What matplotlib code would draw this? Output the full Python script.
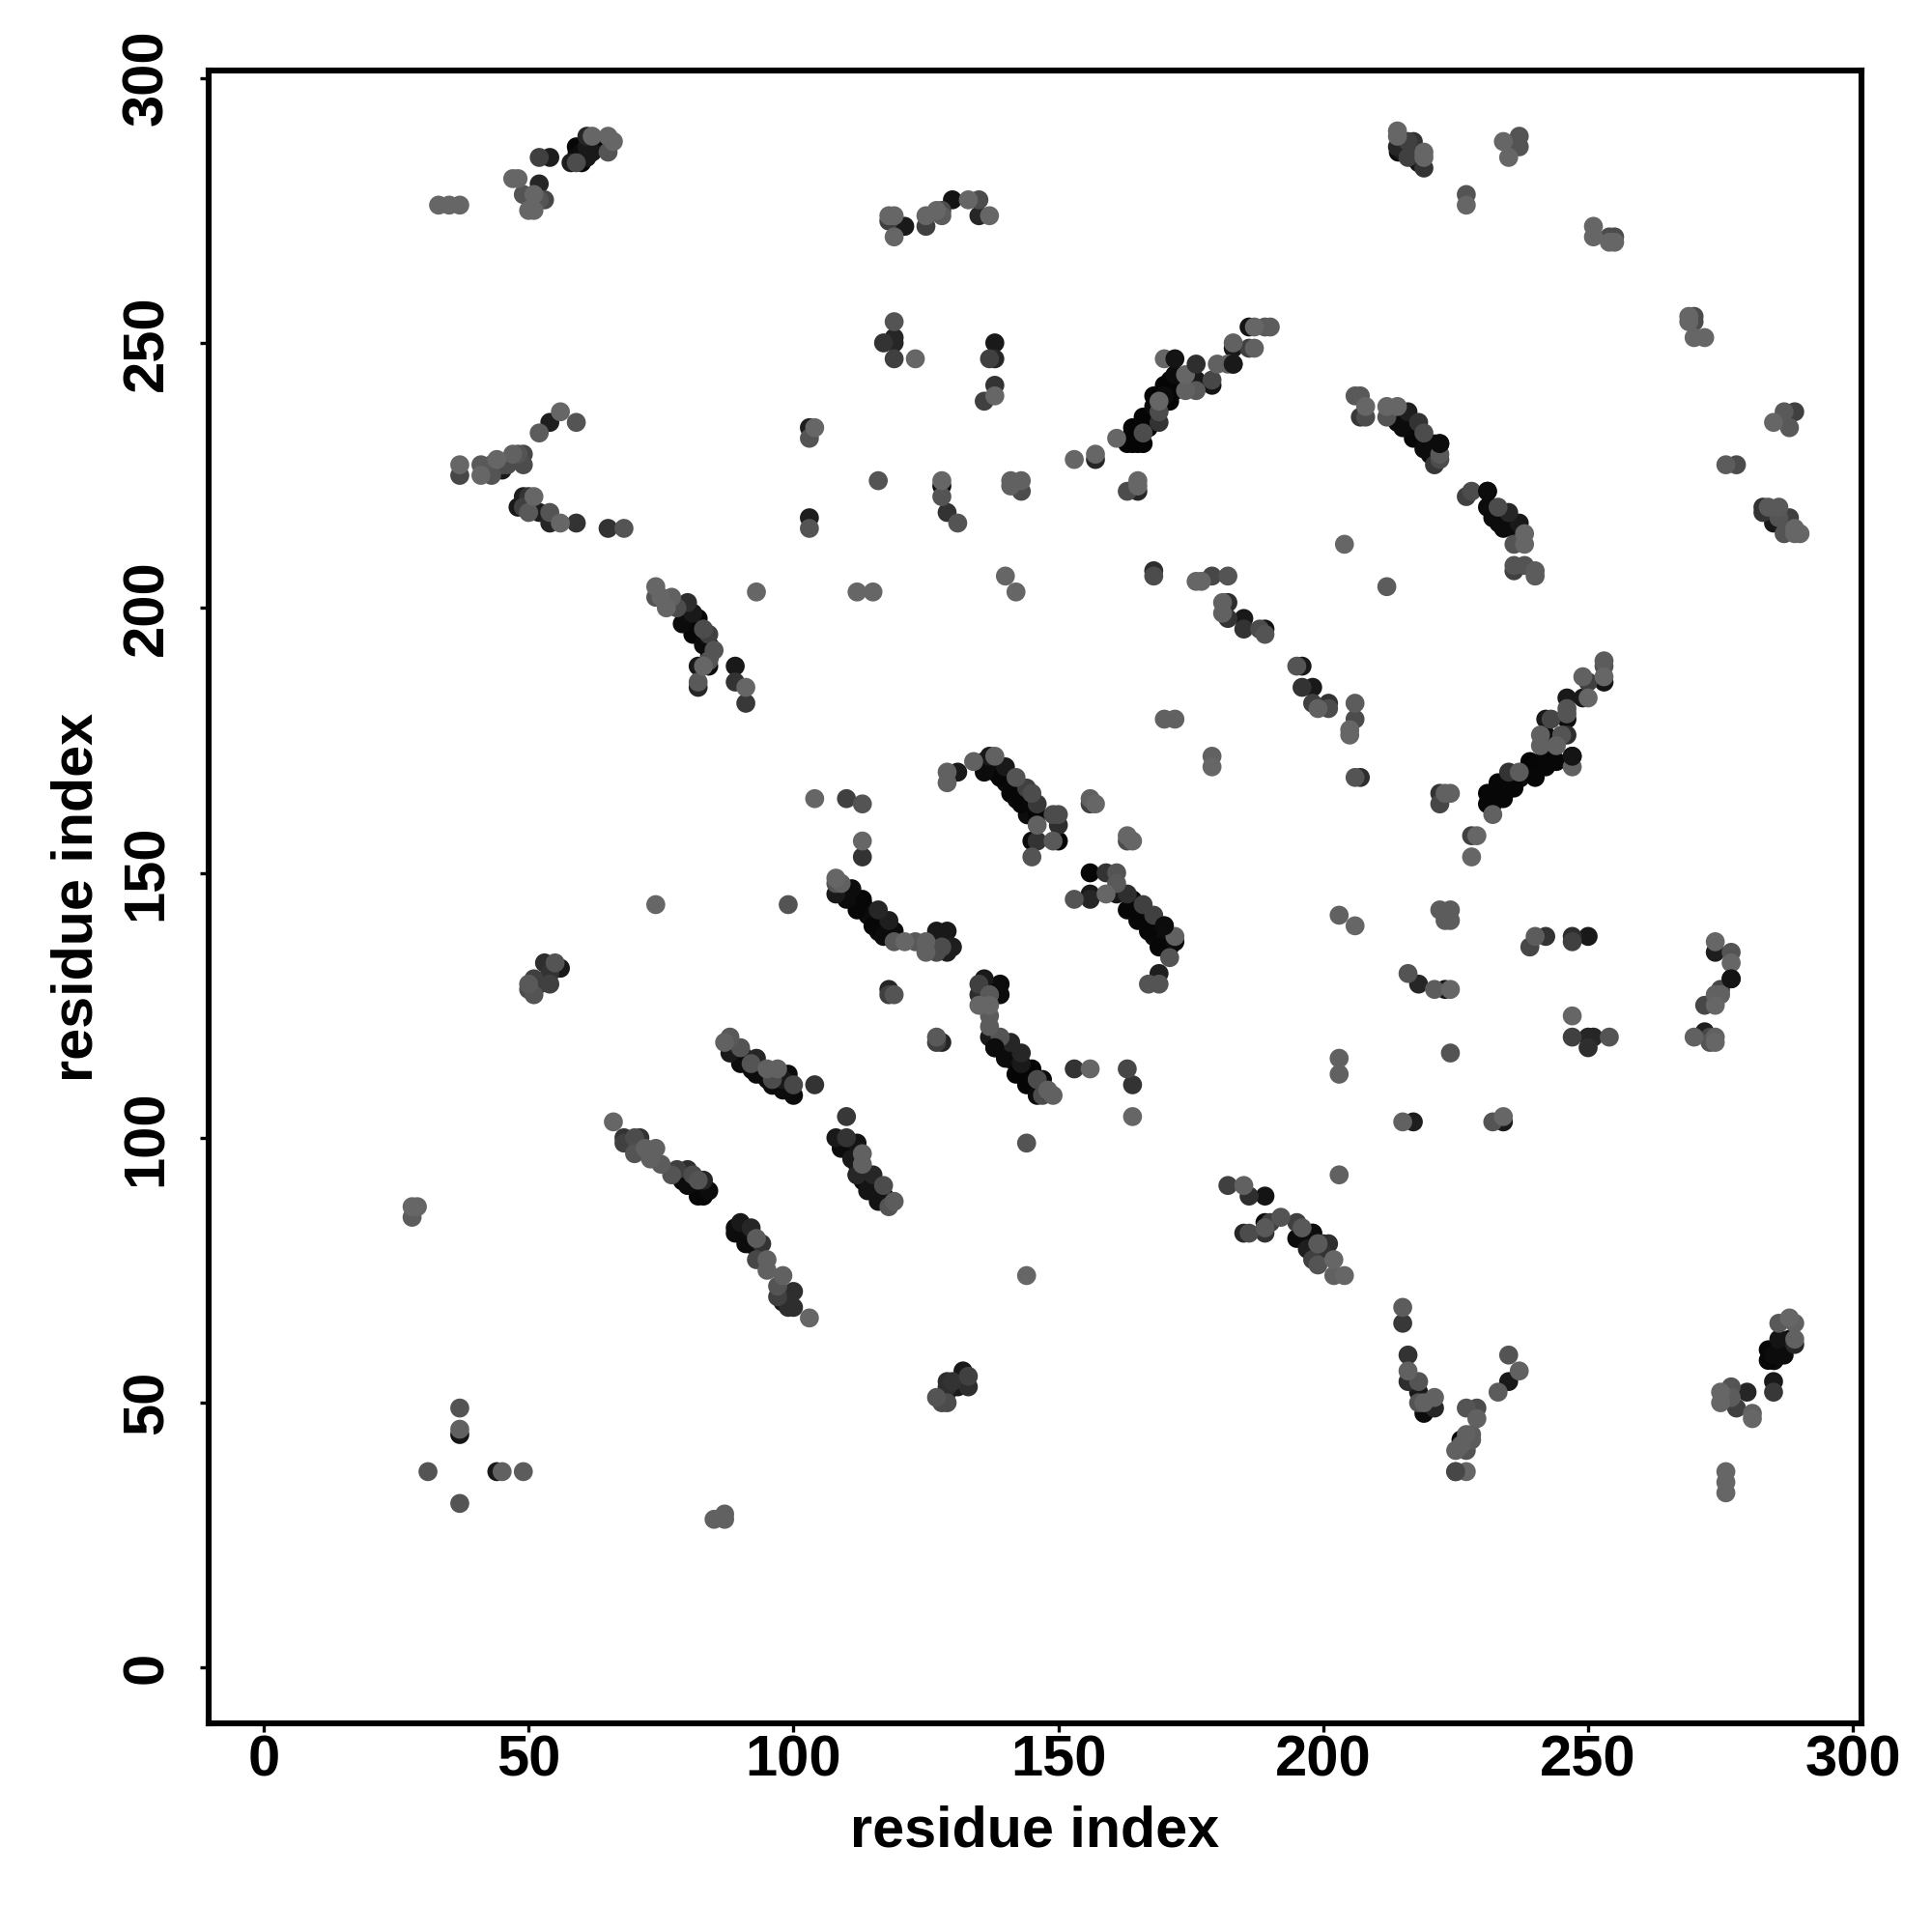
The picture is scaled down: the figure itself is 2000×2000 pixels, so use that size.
import numpy as np
import matplotlib
matplotlib.use("Agg")
import matplotlib.pyplot as plt

plt.rcParams['font.family'] = ['Liberation Sans', 'DejaVu Sans']
plt.rcParams['font.weight'] = 'bold'

# contact map, values, one row per cluster
res_i = [
    33, 35, 37, 47, 48, 52, 54, 52, 49, 51, 53, 52, 50, 51,
    58, 59, 60, 59, 60, 59, 61, 62, 61, 61, 62, 65, 65, 66,
    56, 54, 59, 52,
    37, 37, 41, 41, 44, 43, 45, 45, 46, 43,
    47, 48, 49, 49,
    49, 50, 51, 48, 49, 50, 52, 54, 54, 56, 59, 65, 68,
    103, 104, 103, 103, 103,
    118, 119, 118, 119, 121, 125, 125, 128, 127, 128, 130, 133, 135, 135, 137,
    119, 117, 119, 119, 119, 123,
    138, 137, 138, 138, 138, 136,
    163, 164, 165, 166, 164, 161, 164, 166, 167, 166, 168, 169, 169, 169, 168, 170, 171, 170, 172, 172, 170,
    174, 174, 175, 176, 176, 179, 179, 180, 182, 183, 183, 183, 186, 187, 186, 187, 189, 190,
    153, 157, 157,
    116, 128, 128, 128, 129, 131,
    141, 143, 141, 143,
    163, 165, 165, 165,
    214, 214, 214, 215, 216, 217, 218, 219, 219, 219, 216,
    234, 235, 237, 237,
    227, 227,
    251, 251, 254, 255, 254, 255,
    269, 270, 269, 270, 270, 272,
    206, 207, 208, 207, 208,
    212, 214, 212, 214, 216, 215, 217, 218, 219, 219, 222, 222, 221, 222,
    204,
    227, 228, 231, 231, 233, 235, 232, 234, 237, 238, 236, 238,
    236, 238, 240, 240, 236,
    283, 286, 284, 283, 285, 286, 288, 287, 289, 290, 289,
    285, 287, 289, 288,
    276, 278,
    74, 74, 75, 77, 76, 78, 80, 79, 82, 81, 81, 83, 84, 83, 85, 84, 84, 82, 83, 82, 82,
    89, 89, 91, 91,
    93, 112, 115,
    104, 110, 113, 113, 113,
    74, 99,
    53, 55, 56, 54, 54, 52, 51, 50, 50, 51,
    108, 108, 108, 109, 111, 110, 112, 113, 116, 118, 115, 117, 119, 119, 121, 123, 125, 125, 127, 129, 127, 130, 129, 126, 128,
    118, 118, 119,
    136, 135, 135, 135, 137, 137, 137, 139, 139, 137,
    127, 127, 128,
    137, 138, 139, 141, 140, 138, 143, 142, 145, 144, 147, 146, 146, 148, 149, 147, 143,
    153, 156, 163, 164, 164,
    144, 144,
    129, 130, 129, 129, 131, 127, 129, 128, 132, 133, 133,
    182, 185, 186, 189,
    185, 186, 189, 189, 190, 189, 192, 195, 196, 195, 198, 197, 200, 199,
    198, 201, 199, 198, 199, 202, 202, 204, 200,
    88, 87, 89, 88, 90, 90, 92, 93, 93, 95, 97, 96, 99, 98, 100, 100, 98,
    104,
    66, 68, 71, 70, 68, 70, 72, 74, 73, 75, 77, 80, 78, 81, 80, 83, 82, 84, 83, 82,
    90, 89, 89, 92, 91, 93, 94, 93, 95, 95, 98, 97, 97, 100, 99, 100, 98, 103,
    28, 29, 28,
    37, 37, 37, 31, 44, 45, 49, 37,
    85, 87, 87,
    108, 110, 112, 109, 113, 111, 110, 112, 113, 112, 115, 114, 117, 116, 118, 119,
    140, 142,
    168, 168,
    176, 177, 179, 182,
    181, 182, 181, 182, 185, 185, 188, 189, 189,
    195, 196, 196, 198, 198, 199, 201, 201,
    206, 206, 205, 205, 206, 207,
    170, 172, 179, 179,
    129, 131, 129,
    134, 136, 136, 138, 137, 140, 139, 142, 141, 144, 143, 146, 145, 146, 149, 150, 150, 146, 146, 145, 150, 149, 145,
    156, 157, 156,
    163, 164, 163,
    156, 159, 161, 161, 156, 153, 156, 159, 161, 163, 163, 166, 165, 168, 167, 170, 169, 172, 172, 171, 171, 169, 169, 167,
    212,
    222, 223, 224, 222,
    228, 229, 228,
    232, 231, 231, 232, 233, 234, 236, 235, 237, 240, 239, 242, 244, 242, 247, 247,
    241, 242, 241, 244, 245, 246, 243, 242, 246, 246, 246, 246, 249, 250, 249, 250, 253, 253, 253, 253,
    203, 206,
    222, 224, 223, 224,
    239, 240, 242, 247, 247, 250,
    216, 218, 221, 223, 224,
    247, 247, 250, 251, 254, 250,
    274, 274, 277, 277, 277, 275, 274, 275, 272, 274, 270, 272, 273, 274, 274, 273,
    203, 203, 224,
    215, 217, 232, 234, 234,
    203,
    215, 215,
    216, 216, 216, 218, 218, 218, 219, 221, 221, 219,
    227, 229, 229, 227, 228, 226, 226, 228, 225, 227, 225, 227,
    235, 237, 235, 233,
    288, 286, 289, 286, 289, 289, 287, 284, 284, 286, 285,
    285, 285, 280, 277, 275, 275, 278, 277, 281, 281,
    276, 276, 276,
]
res_j = [
    276, 276, 276, 281, 281, 285, 285, 280, 278, 278, 277, 277, 275, 275,
    284, 284, 284, 285, 286, 287, 285, 286, 287, 289, 289, 289, 286, 288,
    237, 235, 235, 233,
    227, 225, 227, 225, 228, 225, 226, 227, 227, 227,
    229, 229, 229, 227,
    221, 221, 221, 219, 219, 218, 218, 218, 216, 216, 216, 215, 215,
    234, 234, 232, 217, 215,
    274, 274, 273, 270, 272, 272, 274, 274, 275, 275, 277, 277, 277, 274, 274,
    254, 250, 251, 250, 247, 247,
    250, 247, 247, 242, 240, 239,
    231, 231, 231, 231, 233, 232, 234, 236, 234, 233, 240, 235, 237, 239, 238, 242, 239, 240, 241, 244, 247,
    244, 241, 243, 241, 243, 242, 243, 246, 246, 249, 250, 246, 249, 249, 253, 253, 253, 253,
    228, 228, 229,
    224, 224, 223, 221, 218, 216,
    224, 224, 223, 222,
    222, 222, 223, 224,
    290, 289, 287, 286, 285, 288, 284, 286, 285, 283, 288,
    288, 285, 289, 287,
    278, 276,
    272, 270, 270, 270, 269, 269,
    255, 255, 254, 254, 251, 251,
    240, 240, 238, 236, 236,
    238, 238, 236, 235, 237, 234, 232, 235, 233, 230, 231, 228, 227, 229,
    212,
    221, 222, 222, 219, 219, 218, 217, 215, 216, 214, 212, 212,
    208, 208, 207, 206, 207,
    219, 219, 219, 218, 216, 217, 217, 214, 215, 214, 214,
    235, 237, 237, 234,
    227, 227,
    204, 202, 202, 202, 200, 200, 201, 197, 198, 199, 195, 196, 195, 193, 192, 190, 189, 189, 189, 186, 185,
    189, 186, 185, 182,
    203, 203, 203,
    164, 164, 163, 156, 153,
    144, 144,
    133, 133, 132, 129, 131, 129, 127, 128, 129, 130,
    149, 148, 146, 148, 147, 145, 143, 145, 143, 141, 140, 138, 139, 137, 137, 137, 137, 135, 139, 139, 135, 136, 135, 136, 136,
    128, 127, 127,
    130, 129, 127, 125, 125, 123, 121, 129, 127, 127,
    119, 118, 118,
    119, 118, 119, 118, 115, 117, 116, 112, 113, 110, 111, 108, 111, 109, 108, 108, 114,
    113, 113, 113, 110, 104,
    99, 74,
    54, 54, 52, 53, 53, 51, 50, 50, 56, 55, 53,
    91, 91, 89, 89,
    82, 82, 82, 84, 84, 83, 85, 84, 83, 81, 82, 79, 80, 80,
    82, 80, 80, 77, 76, 77, 74, 74, 78,
    119, 118, 117, 116, 117, 114, 114, 115, 112, 113, 113, 111, 112, 109, 108, 110, 111,
    110,
    103, 100, 100, 100, 99, 97, 98, 98, 96, 95, 93, 94, 94, 93, 91, 92, 89, 90, 89, 92,
    84, 82, 83, 83, 80, 81, 80, 77, 77, 75, 74, 72, 70, 71, 68, 68, 69, 66,
    87, 87, 85,
    49, 45, 44, 37, 37, 37, 37, 31,
    28, 29, 28,
    100, 100, 99, 98, 97, 96, 104, 93, 95, 93, 93, 90, 91, 88, 87, 88,
    206, 203,
    207, 206,
    205, 205, 206, 206,
    201, 201, 199, 198, 198, 196, 196, 196, 195,
    189, 189, 185, 185, 182, 181, 182, 181,
    182, 179, 177, 176, 168, 168,
    179, 179, 172, 170,
    169, 169, 167,
    171, 171, 169, 172, 172, 170, 168, 168, 165, 166, 163, 163, 165, 161, 161, 161, 159, 159, 156, 156, 156, 156, 153,
    164, 163, 163,
    157, 156, 156,
    150, 150, 150, 148, 146, 145, 145, 146, 146, 146, 143, 144, 141, 142, 139, 140, 136, 138, 137, 136, 134, 131, 129, 129,
    204,
    165, 165, 165, 163,
    157, 157, 153,
    161, 165, 163, 163, 167, 164, 166, 169, 169, 168, 171, 170, 171, 172, 172, 170,
    176, 176, 174, 174, 176, 176, 179, 179, 183, 181, 180, 179, 183, 183, 187, 186, 186, 187, 189, 190,
    142, 140,
    143, 143, 141, 141,
    136, 138, 138, 138, 137, 138,
    131, 129, 128, 128, 128,
    123, 119, 119, 119, 119, 117,
    137, 135, 135, 133, 130, 128, 127, 127, 125, 125, 119, 120, 119, 119, 118, 118,
    115, 112, 116,
    103, 103, 103, 103, 104,
    93,
    68, 65,
    59, 56, 54, 54, 52, 50, 48, 51, 49, 50,
    49, 49, 47, 44, 44, 43, 42, 43, 41, 41, 37, 37,
    59, 56, 54, 52,
    66, 65, 65, 62, 62, 61, 59, 60, 58, 60, 59,
    54, 52, 52, 53, 52, 50, 49, 51, 48, 47,
    37, 35, 33,
]
shade = [
    .40, .40, .40, .40, .40, .25, .12, .15, .33, .40, .28, .33, .40, .40,
    .12, .30, .03, .05, .05, .03, .10, .10, .10, .15, .40, .40, .33, .40,
    .40, .12, .33, .36,
    .40, .28, .35, .40, .40, .33, .10, .30, .30, .33,
    .38, .33, .28, .30,
    .12, .20, .40, .10, .25, .35, .12, .33, .15, .40, .20, .20, .33,
    .12, .40, .33, .12, .33,
    .40, .40, .25, .40, .10, .25, .40, .36, .40, .30, .08, .40, .30, .15, .40,
    .33, .20, .15, .15, .25, .40,
    .10, .25, .15, .20, .40, .25,
    .02, .02, .02, .02, .02, .40, .02, .02, .02, .30, .02, .20, .30, .40, .05, .02, .02, .05, .02, .05, .40,
    .40, .38, .10, .35, .10, .08, .28, .38, .38, .10, .38, .10, .25, .38, .08, .40, .35, .36,
    .40, .15, .40,
    .33, .40, .05, .33, .20, .33,
    .38, .38, .38, .30,
    .30, .15, .40, .40,
    .40, .40, .15, .10, .25, .20, .08, .40, .40, .20, .25,
    .40, .40, .33, .33,
    .33, .40,
    .40, .40, .30, .30, .40, .40,
    .40, .30, .40, .30, .40, .40,
    .35, .35, .40, .22, .30,
    .40, .40, .33, .05, .12, .05, .03, .20, .30, .05, .05, .30, .22, .35,
    .40,
    .25, .30, .05, .05, .30, .15, .05, .05, .10, .40, .33, .40,
    .33, .33, .36, .36, .25,
    .20, .35, .35, .20, .10, .33, .25, .33, .40, .40, .40,
    .40, .35, .25, .35,
    .36, .30,
    .40, .33, .40, .38, .40, .30, .18, .05, .03, .10, .03, .30, .25, .05, .33, .33, .05, .10, .40, .35, .15,
    .10, .20, .40, .22,
    .40, .40, .40,
    .40, .25, .33, .40, .20,
    .40, .33,
    .18, .33, .10, .25, .20, .20, .33, .30, .35, .25,
    .40, .33, .10, .38, .05, .05, .03, .03, .15, .12, .03, .05, .05, .35, .40, .35, .38, .38, .10, .10, .30, .12, .12, .15, .30,
    .15, .25, .33,
    .10, .25, .18, .40, .40, .36, .36, .05, .05, .35,
    .35, .25, .15,
    .10, .05, .33, .15, .05, .05, .15, .02, .02, .02, .05, .05, .30, .38, .38, .30, .10,
    .20, .40, .28, .20, .40,
    .33, .40,
    .18, .20, .10, .18, .10, .33, .30, .30, .10, .25, .18,
    .25, .38, .18, .08,
    .15, .30, .20, .05, .25, .35, .33, .25, .35, .05, .05, .12, .18, .33,
    .03, .18, .35, .25, .33, .40, .38, .40, .20,
    .35, .38, .10, .10, .33, .05, .33, .15, .05, .38, .38, .30, .05, .05, .05, .28, .10,
    .20,
    .40, .20, .20, .30, .25, .33, .38, .38, .38, .36, .33, .18, .25, .30, .05, .15, .03, .05, .03, .33,
    .10, .05, .05, .15, .05, .36, .20, .28, .38, .38, .38, .33, .25, .18, .18, .18, .10, .40,
    .40, .40, .36,
    .33, .38, .08, .33, .10, .38, .36, .33,
    .38, .38, .38,
    .10, .20, .08, .05, .38, .10, .22, .10, .38, .15, .15, .08, .30, .08, .33, .36,
    .40, .40,
    .18, .30,
    .40, .40, .28, .33,
    .38, .18, .38, .20, .10, .20, .30, .08, .33,
    .33, .10, .20, .10, .25, .38, .20, .30,
    .36, .30, .40, .40, .33, .18,
    .38, .38, .38, .40,
    .38, .10, .38,
    .38, .05, .05, .38, .10, .10, .03, .33, .03, .25, .03, .22, .30, .03, .30, .30, .18, .38, .20, .05, .02, .35, .33,
    .38, .40, .25,
    .40, .40, .30,
    .03, .20, .33, .35, .10, .33, .15, .40, .10, .18, .03, .25, .03, .25, .03, .05, .03, .38, .05, .03, .33, .12, .33, .33,
    .36,
    .20, .38, .38, .28,
    .25, .40, .40,
    .38, .03, .03, .03, .03, .03, .03, .20, .36, .03, .02, .03, .03, .03, .08, .38,
    .38, .05, .38, .38, .33, .18, .28, .10, .10, .33, .33, .05, .10, .40, .38, .25, .08, .40, .33, .36,
    .38, .40,
    .36, .36, .36, .36,
    .28, .36, .20, .18, .25, .10,
    .33, .15, .36, .08, .40,
    .40, .25, .15, .15, .33, .18,
    .40, .12, .33, .40, .08, .28, .38, .38, .28, .40, .38, .12, .28, .38, .40, .33,
    .38, .38, .33,
    .38, .12, .33, .10, .40,
    .38,
    .36, .22,
    .20, .38, .18, .33, .10, .33, .05, .38, .15, .38,
    .33, .30, .38, .38, .36, .03, .38, .36, .38, .33, .28, .40,
    .33, .38, .10, .36,
    .40, .35, .38, .08, .38, .15, .05, .03, .03, .05, .05,
    .10, .22, .15, .33, .40, .40, .25, .36, .38, .40,
    .40, .40, .40,
]

# dark dots hidden along the dense strands, they only show as a filled edge
fill_i = [
    109, 110, 111, 112, 113, 114, 115, 116, 117, 118, 116,
    137, 138, 139, 140, 141, 142, 142, 143, 144, 145, 144,
    164, 165, 166, 167, 168, 168, 169, 170, 170,
    139, 140, 141, 142, 143, 144, 145, 146, 147,
    90, 91, 92, 93, 94, 95, 96, 97, 98,
    79, 81,
    90, 91, 92,
    110, 111, 112, 113, 114, 115, 116, 117,
    165, 166, 167, 168, 169, 170, 171, 171,
    233, 234, 235, 236, 237, 238, 239, 241, 243, 243,
    216, 217, 218, 219, 220, 221, 220,
    232, 233, 234, 235, 236, 233,
    80, 81, 82, 83, 84, 84,
    196, 197, 198, 199,
    214, 215, 216, 217, 217, 218,
    60, 60, 61, 63, 59,
    285, 286, 285, 286, 287, 288,
]
fill_j = [
    146, 146, 145, 144, 144, 142, 142, 141, 140, 139, 139,
    170, 169, 169, 167, 167, 166, 164, 165, 163, 162, 161,
    145, 143, 142, 141, 140, 138, 138, 137, 136,
    117, 116, 115, 114, 113, 112, 111, 110, 109,
    116, 115, 113, 113, 112, 111, 110, 110, 110,
    92, 91,
    82, 81, 80,
    98, 98, 95, 92, 92, 91, 90, 89,
    233, 235, 236, 236, 238, 239, 241, 243,
    165, 166, 166, 167, 168, 169, 169, 171, 171, 173,
    234, 233, 233, 232, 231, 231, 229,
    219, 217, 217, 216, 215, 216,
    198, 197, 196, 195, 193, 191,
    81, 80, 79, 78,
    286, 287, 286, 285, 286, 285,
    285, 287, 286, 287, 286,
    60, 61, 58, 59, 61, 62,
]

# these dark ones sit on top of the lighter dots around them
top_i = [172, 183, 176, 231, 170, 138, 222, 247, 277, 225]
top_j = [247, 246, 246, 222, 140, 117, 231, 172, 130, 37]
top_shade = [.08, .10, .18, .05, .05, .05, .05, .08, .08, .28]

ticks = [0, 50, 100, 150, 200, 250, 300]

fig = plt.figure(figsize=(10, 10), dpi=200)
ax = fig.add_axes([216 / 2000, 1 - 1784 / 2000, 1711 / 2000, 1711 / 2000])

res_i = np.array(res_i)
res_j = np.array(res_j)
shade = np.array(shade)
order = np.argsort(shade, kind='stable')
dot = 50
ax.scatter(fill_i, fill_j, color='0.05', s=dot, linewidths=0)
ax.scatter(res_i[order], res_j[order], c=shade[order], cmap='gray', vmin=0, vmax=1,
           s=dot, linewidths=0)
ax.scatter(top_i, top_j, c=top_shade, cmap='gray', vmin=0, vmax=1, s=dot, linewidths=0)

ax.set_xlim(-10.4, 301.6)
ax.set_ylim(-10.5, 301.4)
ax.set_xticks(ticks)
ax.set_yticks(ticks)
ax.tick_params(axis='x', length=3.2, width=1.2, labelsize=21.5, pad=1)
ax.tick_params(axis='y', length=3.2, width=1.2, labelsize=21.5, pad=9.7)
for label in ax.get_yticklabels():
    label.set_rotation(90)
    label.set_va('center')
for spine in ax.spines.values():
    spine.set_linewidth(2.2)

ax.set_xlabel('residue index', fontsize=21.4, fontweight='bold', labelpad=6.4)
ax.set_ylabel('residue index', fontsize=21.4, fontweight='bold', labelpad=6.2)

fig.savefig('out.png', dpi=200, facecolor='white')
